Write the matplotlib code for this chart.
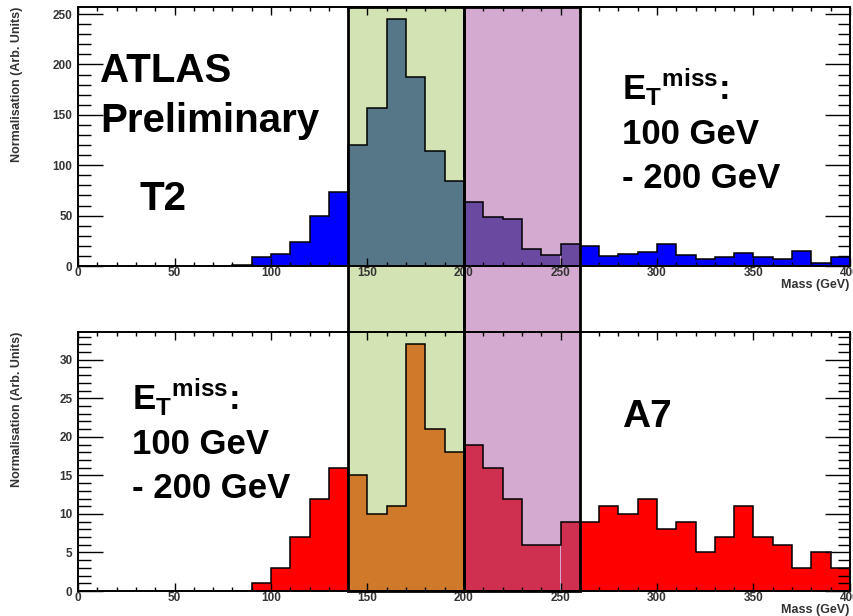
import numpy as np
import matplotlib
matplotlib.use('Agg')
import matplotlib.pyplot as plt
from matplotlib.patches import Rectangle
from matplotlib.transforms import blended_transform_factory
from matplotlib.ticker import MultipleLocator

plt.rcParams['font.family'] = ['Liberation Sans', 'DejaVu Sans']
plt.rcParams['font.weight'] = 'bold'
plt.rcParams['mathtext.fontset'] = 'custom'
plt.rcParams['mathtext.rm'] = 'Liberation Sans:bold'
plt.rcParams['mathtext.it'] = 'Liberation Sans:bold'
plt.rcParams['mathtext.bf'] = 'Liberation Sans:bold'
plt.rcParams['mathtext.default'] = 'bf'

# histogram contents, 10 GeV bins
t2_start = 80
t2_counts = [1, 9, 12, 24, 50, 73, 120, 157, 245, 188, 114, 84, 64, 49, 47, 17,
             11, 22, 20, 10, 12, 14, 22, 11, 7, 9, 13, 9, 7, 15, 3, 9]
a7_start = 90
a7_counts = [1, 3, 7, 12, 16, 15, 10, 11, 32, 21, 18, 19, 16, 12, 6, 6,
             9, 9, 11, 10, 12, 8, 9, 5, 7, 11, 7, 6, 3, 5, 3]
bin_width = 10

# highlighted mass windows
band_edges = [140, 200, 260]
band_colors = ['#d4e3b4', '#d4aad0']
t2_colors = ['#0000ff', '#557788', '#6a4aa0']   # outside, green window, purple window
a7_colors = ['#ff0000', '#cf7a2a', '#d03050']

W, H = 854, 616
fig = plt.figure(figsize=(W / 100, H / 100), dpi=100)


def px(x, y):
    return x / W, 1 - y / H


ax_top = fig.add_axes([78 / W, 1 - 266 / H, 772 / W, 259 / H])
ax_bot = fig.add_axes([78 / W, 1 - 591 / H, 772 / W, 259 / H])


def region_color(left, cols):
    if band_edges[0] <= left < band_edges[1]:
        return cols[1]
    if band_edges[1] <= left < band_edges[2]:
        return cols[2]
    return cols[0]


def draw_hist(ax, start, counts, cols, ymax, ymajor, yminor):
    edges = start + bin_width * np.arange(len(counts) + 1)
    fc = [region_color(e, cols) for e in edges[:-1]]
    ax.bar(edges[:-1], counts, width=bin_width, align='edge', color=fc, linewidth=0)
    ax.stairs(counts, edges, baseline=0, color='black', linewidth=1.1)
    ax.set_xlim(0, 400)
    ax.set_ylim(0, ymax)
    ax.set_facecolor('none')
    ax.xaxis.set_major_locator(MultipleLocator(50))
    ax.xaxis.set_minor_locator(MultipleLocator(10))
    ax.yaxis.set_major_locator(MultipleLocator(ymajor))
    ax.yaxis.set_minor_locator(MultipleLocator(yminor))
    ax.tick_params(which='both', direction='in', top=True, right=True,
                   labelsize=8.5, labelcolor='#333333', width=1)
    ax.tick_params(axis='x', which='major', length=6, pad=1)
    ax.tick_params(axis='x', which='minor', length=3)
    ax.tick_params(axis='y', which='major', length=18, pad=4)
    ax.tick_params(axis='y', which='minor', length=9)
    for s in ax.spines.values():
        s.set_linewidth(1.4)


draw_hist(ax_top, t2_start, t2_counts, t2_colors, 257, 50, 10)
draw_hist(ax_bot, a7_start, a7_counts, a7_colors, 33.6, 5, 1)

# mass windows spanning both panels
tr = blended_transform_factory(ax_top.transData, fig.transFigure)
y0 = ax_bot.get_position().y0
y1 = ax_top.get_position().y1
for i, col in enumerate(band_colors):
    lo, hi = band_edges[i], band_edges[i + 1]
    fig.add_artist(Rectangle((lo, y0), hi - lo, y1 - y0, transform=tr,
                             facecolor=col, edgecolor='none', zorder=-1))
    fig.add_artist(Rectangle((lo, y0), hi - lo, y1 - y0, transform=tr,
                             fill=False, edgecolor='black', linewidth=2, zorder=5))

# axis titles
for ax in (ax_top, ax_bot):
    top = ax.get_position().y1
    bottom = ax.get_position().y0
    fig.text(17 / W, top, 'Normalisation (Arb. Units)', rotation=90,
             ha='center', va='top', fontsize=9, color='#333333')
    fig.text(849 / W, bottom - 19 / H, 'Mass (GeV)', ha='right', va='center',
             fontsize=9, color='#333333')

# labels
fig.text(*px(100, 82), 'ATLAS', fontsize=29, va='baseline')
fig.text(*px(100, 132), 'Preliminary', fontsize=29, va='baseline')
fig.text(*px(140, 210), 'T2', fontsize=29, va='baseline')
fig.text(*px(622, 427), 'A7', fontsize=28, va='baseline')

met_lines = [r'$E_{T}{}^{miss}$:', '100 GeV', '- 200 GeV']
for (x, y) in [(622, 100), (132, 410)]:
    for k, line in enumerate(met_lines):
        fig.text(*px(x, y + 44 * k), line, fontsize=25, va='baseline')

fig.savefig('out.png', dpi=100)
